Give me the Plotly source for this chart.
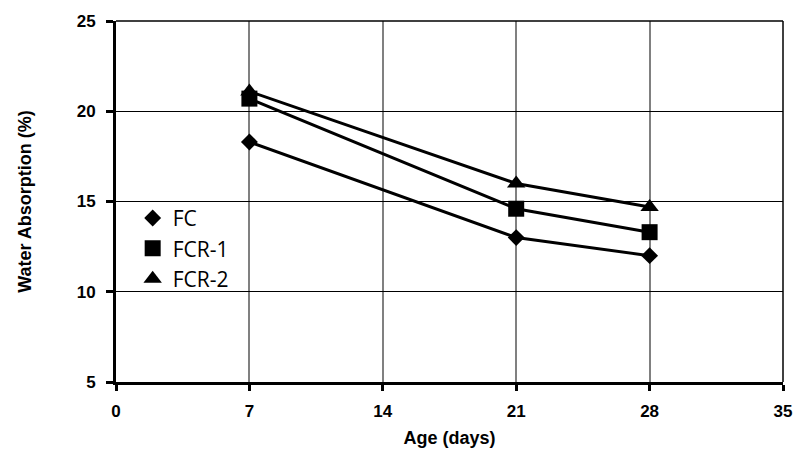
import plotly.graph_objects as go

ages = [7, 21, 28]
fc = [18.3, 13.0, 12.0]
fcr1 = [20.7, 14.6, 13.3]
fcr2 = [21.1, 16.0, 14.7]

x_ticks = [0, 7, 14, 21, 28, 35]
y_ticks = [5, 10, 15, 20, 25]

series = [
    ("FC", fc, "diamond", 13),
    ("FCR-1", fcr1, "square", 16),
    ("FCR-2", fcr2, "triangle-up", 16),
]

fig = go.Figure()
# connecting lines (not in legend)
for name, vals, sym, sz in series:
    fig.add_trace(go.Scatter(
        x=ages, y=vals, name=name, mode="lines", showlegend=False,
        line=dict(color="black", width=3), hoverinfo="skip",
    ))
# markers (legend shows markers only)
for name, vals, sym, sz in series:
    fig.add_trace(go.Scatter(
        x=ages, y=vals, name=name, mode="markers",
        marker=dict(symbol=sym, size=sz, color="black"),
    ))

fig.update_layout(
    width=804, height=458,
    margin=dict(l=116, r=14, t=20, b=76),
    paper_bgcolor="white", plot_bgcolor="white",
    showlegend=True,
    legend=dict(
        x=0.025, y=0.51, xanchor="left", yanchor="top",
        bgcolor="rgba(0,0,0,0)",
        font=dict(family="Open Sans", size=21, color="black"),
        itemwidth=30, tracegroupgap=0,
    ),
    xaxis=dict(
        range=[0, 35], tickvals=x_ticks, ticktext=[str(v) for v in x_ticks],
        showgrid=True, gridcolor="#808080", gridwidth=1.5,
        showline=True, linecolor="black", linewidth=3,
        ticks="outside", ticklen=6, tickwidth=3, tickcolor="black",
        tickfont=dict(family="Liberation Sans", size=17, color="black", weight="bold"),
        ticklabelstandoff=6,
        title=dict(text="<b>Age (days)</b>", font=dict(family="Liberation Sans", size=18, color="black"), standoff=11),
        zeroline=False,
    ),
    yaxis=dict(
        range=[5, 25], tickvals=y_ticks, ticktext=[str(v) for v in y_ticks],
        showgrid=True, gridcolor="black", gridwidth=1,
        showline=True, linecolor="black", linewidth=3,
        ticks="outside", ticklen=7, tickwidth=3, tickcolor="black",
        tickfont=dict(family="Liberation Sans", size=17, color="black", weight="bold"),
        ticklabelstandoff=7,
        title=dict(text="<b>Water Absorption (%)</b>", font=dict(family="Liberation Sans", size=18, color="black"), standoff=41),
        zeroline=False,
    ),
    shapes=[
        dict(type="line", xref="paper", yref="paper", x0=0, x1=1, y0=1, y1=1,
             line=dict(color="black", width=1.5)),
        dict(type="line", xref="paper", yref="paper", x0=1, x1=1, y0=0, y1=1,
             line=dict(color="black", width=1.5)),
    ],
)

fig.write_html("out.html")
